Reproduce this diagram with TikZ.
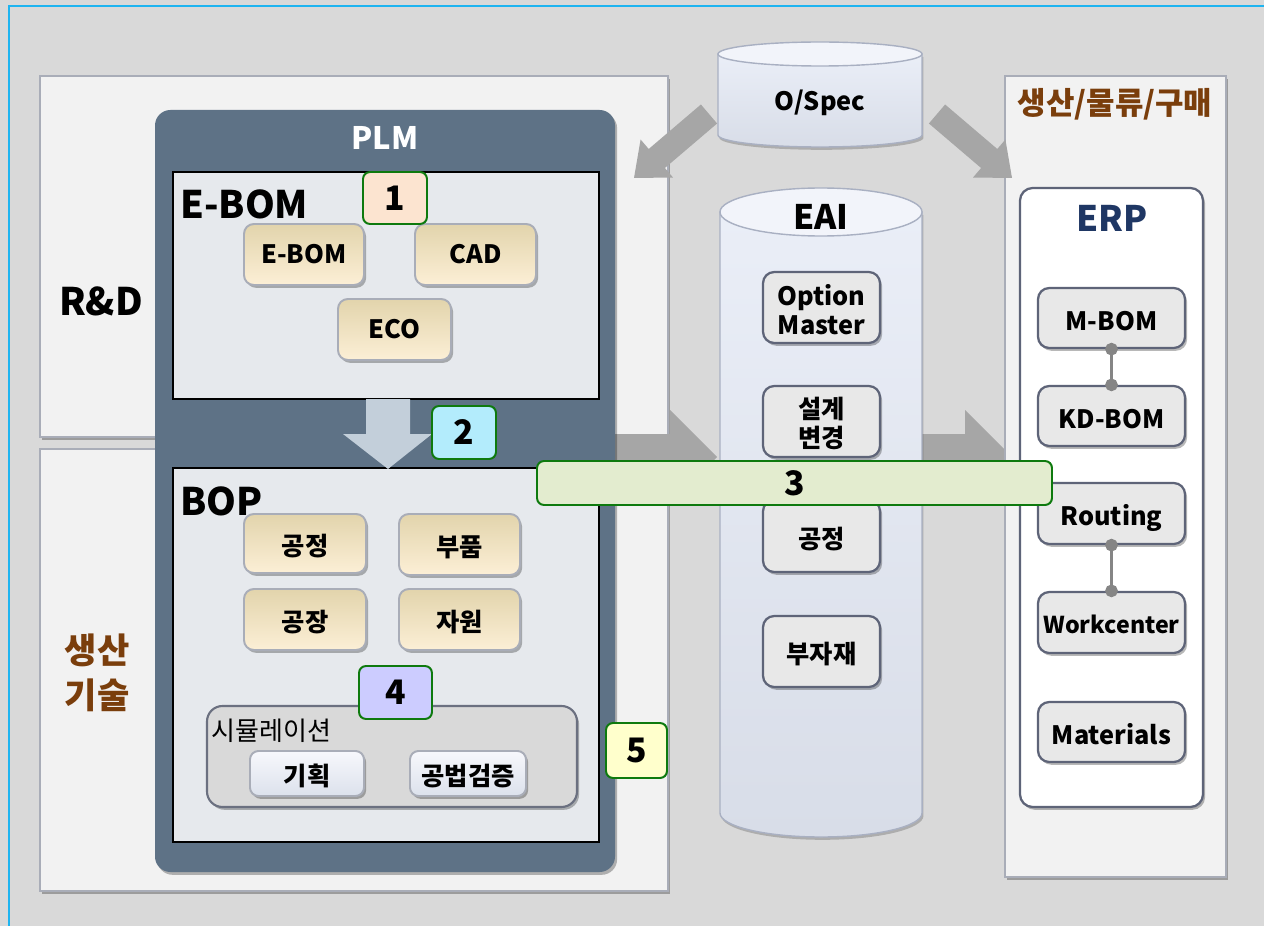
\documentclass[tikz,border=0pt]{standalone}
\usepackage{fontspec}
\setmainfont{Noto Sans CJK KR}
\usetikzlibrary{shadows,arrows.meta}

\definecolor{bgc}{HTML}{D9D9D9}
\definecolor{framec}{HTML}{1EB4F0}
\definecolor{panelc}{HTML}{F2F2F2}
\definecolor{panelb}{HTML}{A9ADB8}
\definecolor{plmc}{HTML}{5E7286}
\definecolor{innerc}{HTML}{E6E9ED}
\definecolor{creamtop}{HTML}{E2D4AC}
\definecolor{creambot}{HTML}{FCEFD6}
\definecolor{creamb}{HTML}{A9ADB8}
\definecolor{boxc}{HTML}{E8E8E8}
\definecolor{boxb}{HTML}{5E6478}
\definecolor{badgeb}{HTML}{0E7A0E}
\definecolor{bA}{HTML}{FCE4D0}
\definecolor{bB}{HTML}{B3ECFC}
\definecolor{bC}{HTML}{E3ECCF}
\definecolor{bD}{HTML}{CCCCFF}
\definecolor{bE}{HTML}{FFFFCC}
\definecolor{arrowc}{HTML}{A6A6A6}
\definecolor{downc}{HTML}{C3CFDA}
\definecolor{connc}{HTML}{858585}
\definecolor{brownc}{HTML}{7A3E0C}
\definecolor{navyc}{HTML}{1F3764}
\definecolor{cyltop}{HTML}{F2F4FA}
\definecolor{cylhi}{HTML}{EAEEF7}
\definecolor{cyllo}{HTML}{D8DDE8}
\definecolor{cylb}{HTML}{A9B0C2}
\definecolor{simc}{HTML}{D9D9D9}
\definecolor{simb}{HTML}{6B7080}
\definecolor{btntop}{HTML}{F7F8FC}
\definecolor{btnbot}{HTML}{DCE1EC}

% box from its corners: name, style, x1, y1, x2, y2, text
\newcommand\bx[7]{\node[#2, minimum width={(#5-#3)*0.025cm}, minimum height={(#6-#4)*0.025cm}] (#1) at ({(#3+#5)/2},{(#4+#6)/2}) {#7};}

\tikzset{
  fs/.style={font=\bfseries\fontsize{#1}{#1}\selectfont},
  lowtext/.style={text height=#1, text depth=0pt},
  lowtext/.default=17.3pt,
  softshadow/.style={drop shadow={shadow xshift=1.5pt, shadow yshift=-2pt, opacity=0.28, fill=black}},
  panel/.style={fill=panelc, draw=panelb, line width=0.9pt, softshadow},
  plmbox/.style={fill=plmc, rounded corners=11pt, inner sep=0pt, softshadow},
  innerbox/.style={fill=innerc, draw=black, line width=1.5pt, inner sep=0pt},
  cream/.style={top color=creamtop, bottom color=creambot, draw=creamb, line width=1.4pt,
    rounded corners=7pt, inner sep=0pt, softshadow, fs=18},
  gboxm/.style={fill=boxc, draw=boxb, line width=1.6pt, rounded corners=8pt, inner sep=0pt,
    align=center, softshadow, fs=18},
  gbox/.style={gboxm, lowtext},
  badge/.style={draw=badgeb, line width=1.4pt, rounded corners=5pt, inner sep=0pt, fs=24},
  simbox/.style={fill=simc, draw=simb, line width=1.5pt, rounded corners=11pt, inner sep=0pt, softshadow},
  btn/.style={top color=btntop, bottom color=btnbot, draw=creamb, line width=1.4pt,
    rounded corners=6pt, inner sep=0pt, softshadow, fs=18, lowtext},
  erpbox/.style={fill=white, draw=boxb, line width=1.6pt, rounded corners=9pt, inner sep=0pt, softshadow},
  cylbody/.style={top color=cylhi, bottom color=cyllo, draw=cylb, line width=1pt,
    drop shadow={shadow xshift=1pt, shadow yshift=-2pt, opacity=0.2, fill=black}},
  cylcap/.style={fill=cyltop, draw=cylb, line width=1pt},
  blockarrow/.style={fill=arrowc},
  link/.style={draw=connc, line width=1.5pt, {Circle[length=9pt]}-{Circle[length=9pt]},
    shorten <=-4.5pt, shorten >=-4.5pt},
  lbl/.style={inner sep=0pt}
}

\begin{document}
\begin{tikzpicture}[x=0.025cm, y=-0.025cm]
\useasboundingbox (0,0) rectangle (1264,926);
\fill[bgc] (0,0) rectangle (1264,926);
\draw[framec, line width=1.4pt] (9,930) -- (9,6) -- (1270,6);

% arrow from EAI towards ERP, partly under the right panel
\fill[blockarrow] (915,434) -- (965,434) -- (965,410) -- (1012,457) -- (965,504) -- (965,480) -- (915,480) -- cycle;

% organisation panels
\path[panel] (40,76) rectangle (668,437);
\path[panel] (40,449) rectangle (668,891);
\path[panel] (1005,76) rectangle (1226,877);

\node[lbl, fs=27] (rd) at (101,301) {R\&D};
\node[lbl, fs=25, text=brownc, align=center] (prodeng) at (97,673) {생산\\[7pt]기술};
\node[lbl, fs=22, text=brownc] (logi) at (1115,104) {생산/물류/구매};

% arrow from PLM towards EAI
\fill[blockarrow] (612,434) -- (670,434) -- (670,410) -- (717,457) -- (670,504) -- (670,480) -- (612,480) -- cycle;

% arrows leaving O/Spec
\fill[blockarrow] (717.1,123.5) -- (664.9,168.0) -- (673.0,177.5) -- (634,178) -- (640.6,139.5) -- (648.7,149.0) -- (700.9,104.5) -- cycle;
\fill[blockarrow] (928.9,123.5) -- (981.1,168.0) -- (973.0,177.5) -- (1012,178) -- (1005.4,139.5) -- (997.3,149.0) -- (945.1,104.5) -- cycle;

% O/Spec store
\path[cylbody] (718,54) -- (718,135) arc[start angle=180, end angle=360, x radius=2.55cm, y radius=0.3cm] -- (922,54) -- cycle;
\path[cylcap] (820,54) ellipse[x radius=2.55cm, y radius=0.3cm];
\node[lbl, fs=18] (ospec) at (820,103) {O/Spec};

% EAI store
\path[cylbody] (720,212) -- (720,813) arc[start angle=180, end angle=360, x radius=2.525cm, y radius=0.6cm] -- (922,212) -- cycle;
\path[cylcap] (821,212) ellipse[x radius=2.525cm, y radius=0.6cm];
\node[lbl, fs=24] (eai) at (821,217) {EAI};

\bx{optm}{gboxm}{763}{272}{880}{343}{\rule{0pt}{1em}Option\\[2pt]Master}
\bx{dchg}{gboxm}{763}{386}{880}{457}{\rule{0pt}{1em}설계\\[2pt]변경}
\bx{eproc}{gbox}{763}{500}{880}{572}{공정}
\bx{subm}{gbox}{763}{616}{880}{687}{부자재}

% ERP
\bx{erp}{erpbox}{1020}{188}{1203}{807}{}
\node[lbl, fs=25, text=navyc] (erptitle) at (1112,218) {ERP};
\bx{mbom}{gbox}{1038}{288}{1185}{348}{M-BOM}
\bx{kdbom}{gbox}{1038}{386}{1185}{446}{KD-BOM}
\bx{rout}{gbox}{1038}{483}{1185}{544}{Routing}
\bx{wc}{gbox, fs=16.5, lowtext=16.3pt}{1038}{592}{1185}{653}{Workcenter}
\bx{mat}{gbox}{1038}{702}{1185}{762}{Materials}
\draw[link] (mbom.south) -- (kdbom.north);
\draw[link] (rout.south) -- (wc.north);

% PLM
\bx{plm}{plmbox}{155}{110}{615}{872}{}
\node[lbl, fs=22, text=white] (plmtitle) at (385,138) {PLM};

\bx{ebom}{innerbox}{173}{172}{599}{399}{}
\node[lbl, fs=27, anchor=west] (ebomtitle) at (180,204) {E-BOM};
\bx{iebom}{cream}{244}{224}{364}{285}{E-BOM}
\bx{icad}{cream}{415}{224}{536}{285}{CAD}
\bx{ieco}{cream}{338}{299}{451}{360}{ECO}

\bx{bop}{innerbox}{173}{468}{599}{842}{}
\node[lbl, fs=27, anchor=west] (boptitle) at (180,501) {BOP};
\bx{iproc}{cream, lowtext}{244}{514}{366}{573}{공정}
\bx{ipart}{cream, lowtext}{399}{514}{520}{575}{부품}
\bx{iplant}{cream, lowtext}{244}{589}{366}{650}{공장}
\bx{ires}{cream, lowtext}{399}{589}{520}{650}{자원}

% hand-over from E-BOM to BOP
\fill[downc] (366,399) -- (410,399) -- (410,434) -- (432,434) -- (388,469) -- (343,434) -- (366,434) -- cycle;

\bx{sim}{simbox}{207}{706}{577}{807}{}
\node[lbl, anchor=west, font=\fontsize{18.5}{18.5}\selectfont] (simtitle) at (211,731) {시뮬레이션};
\bx{plan}{btn}{250}{751}{364}{796}{기획}
\bx{verif}{btn}{410}{751}{526}{796}{공법검증}

% numbered markers
\bx{nA}{badge, fill=bA}{363}{172}{427}{224}{1}
\bx{nB}{badge, fill=bB}{432}{406}{496}{459}{2}
\bx{nC}{badge, fill=bC}{537}{461}{1052}{505}{3}
\bx{nD}{badge, fill=bD}{359}{666}{432}{719}{4}
\bx{nE}{badge, fill=bE}{606}{723}{667}{778}{5}
\end{tikzpicture}
\end{document}
